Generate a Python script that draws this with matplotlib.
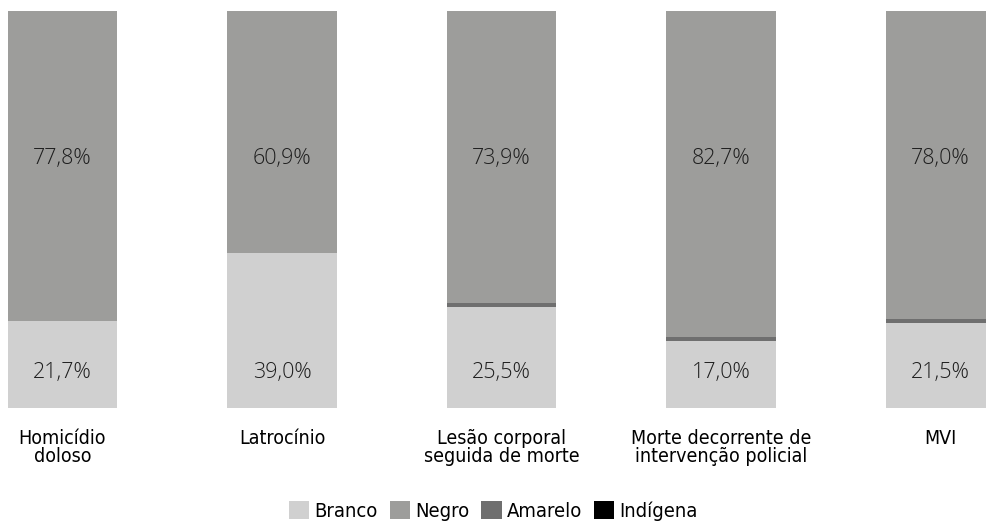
import matplotlib
matplotlib.use("Agg")
import matplotlib.pyplot as plt
import numpy as np
from matplotlib import font_manager as fm

categories = ["Homicídio\ndoloso", "Latrocínio", "Lesão corporal\nseguida de morte",
              "Morte decorrente de\nintervenção policial", "MVI"]
branco = [21.7, 39.0, 25.5, 17.0, 21.5]
amarelo = [0.0, 0.0, 1.2, 1.0, 0.9]
negro = [77.8, 60.9, 73.9, 82.7, 78.0]
indigena = [0.0, 0.0, 0.0, 0.0, 0.0]
series_names = ["Branco", "Negro", "Amarelo", "Indígena"]
colors = {"Branco": "#d0d0d0", "Negro": "#9d9d9b", "Amarelo": "#6f6f6f", "Indígena": "#000000"}

# find a condensed / narrow font if one is installed
cond_prop = None
for f in fm.fontManager.ttflist:
    nm = f.name.lower()
    fn = f.fname.lower()
    if ("narrow" in nm or "condensed" in nm or "condensed" in fn or f.stretch in ("condensed", 300)) \
            and "bold" not in fn and "italic" not in fn and "oblique" not in fn:
        cond_prop = f.fname
        break
def cprop(size):
    if cond_prop:
        return fm.FontProperties(fname=cond_prop, size=size)
    return fm.FontProperties(family="DejaVu Sans", size=size)

names = {f.name for f in fm.fontManager.ttflist}
lab_font = "Open Sans" if "Open Sans" in names else "DejaVu Sans"
light_ok = any(f.name == lab_font and f.weight in (300, "light") for f in fm.fontManager.ttflist)
lab_weight = "light" if light_ok else "normal"

# 100% stacked: normalise each column by its total
b = np.array(branco); a = np.array(amarelo); n = np.array(negro); i_ = np.array(indigena)
tot = b + a + n + i_
bs, as_, ns, is_ = b / tot * 100, a / tot * 100, n / tot * 100, i_ / tot * 100

fig = plt.figure(figsize=(9.87, 5.23), dpi=100)
ax = fig.add_axes([0, 0.22, 1, 0.759])
x = np.arange(len(categories))
w = 0.497
ax.bar(x, bs, w, color=colors["Branco"], label="Branco")
ax.bar(x, ns, w, bottom=bs + as_, color=colors["Negro"], label="Negro")
ax.bar(x, as_, w, bottom=bs, color=colors["Amarelo"], label="Amarelo")
ax.bar(x, is_, w, bottom=bs + as_ + ns, color=colors["Indígena"], label="Indígena")

for xi, bv, nv in zip(x, branco, negro):
    ax.text(xi, 9.0, f"{bv:.1f}%".replace(".", ","), ha="center", va="center",
            fontsize=15.5, color="#1e1e1e", family=lab_font, fontweight=lab_weight)
    ax.text(xi, 62.8, f"{nv:.1f}%".replace(".", ","), ha="center", va="center",
            fontsize=15.5, color="#1e1e1e", family=lab_font, fontweight=lab_weight)

ax.set_xlim(-62.5 / 219.5, (987 - 62.5) / 219.5)
ax.set_ylim(0, 100)
ax.set_xticks(x)
ax.set_xticklabels(categories, color="#000000", linespacing=0.92)
for t in ax.get_xticklabels():
    t.set_fontproperties(cprop(14))
ax.tick_params(axis="x", length=0, pad=15)
ax.set_yticks([])
for s in ax.spines.values():
    s.set_visible(False)

handles, labels = ax.get_legend_handles_labels()
order = [labels.index(s) for s in series_names]
fig.legend([handles[k] for k in order], [labels[k] for k in order], loc="lower center",
           bbox_to_anchor=(0.5, -0.03), ncol=4, frameon=False, handlelength=1.0,
           handleheight=1.0, handletextpad=0.25, columnspacing=0.6,
           prop=cprop(14.5))

fig.savefig("out.png", dpi=100)
